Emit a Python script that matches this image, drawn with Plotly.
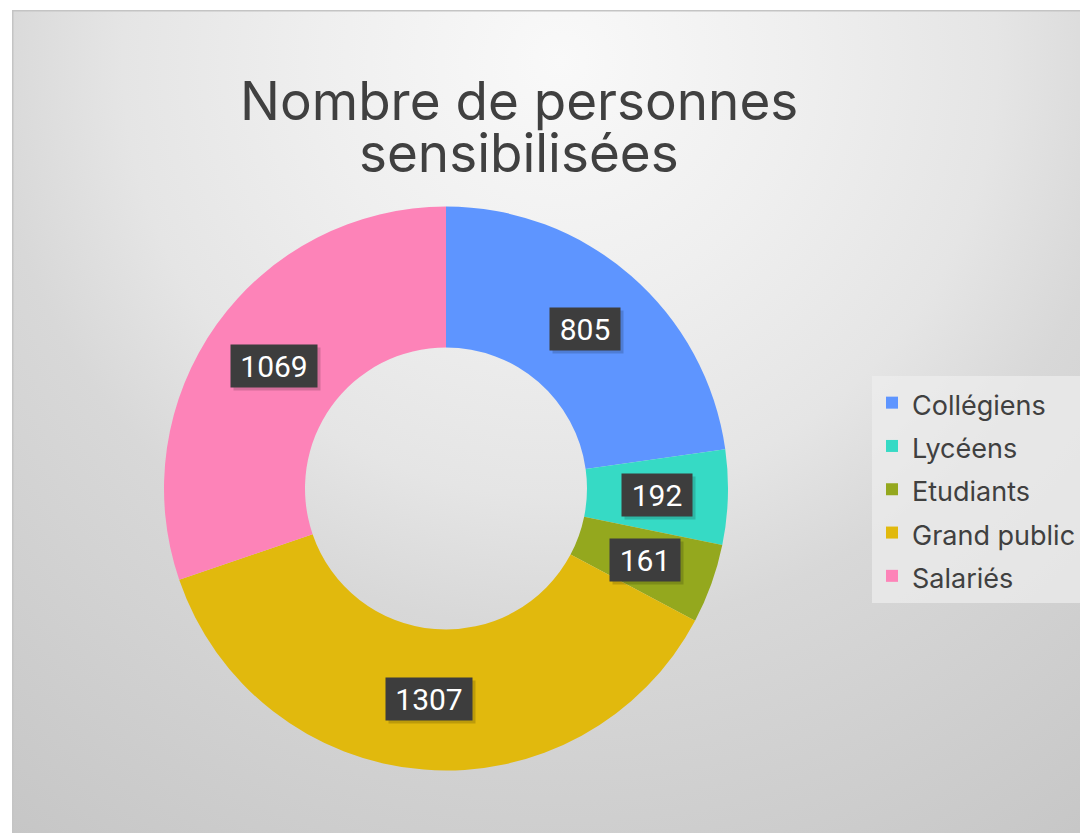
import base64, math
import plotly.graph_objects as go

categories = ["Collégiens", "Lycéens", "Etudiants", "Grand public", "Salariés"]
values = [805, 192, 161, 1307, 1069]
colors = ["#5E95FF", "#36DAC5", "#94A81E", "#E1B90D", "#FD83B8"]
title_lines = ["Nombre de personnes", "sensibilisées"]

# page body has an 8px margin: work in screen pixels and convert
OFF = 8
W, H = 1080, 825


def fx(x):
    return (x - OFF) / W


def fy(y):
    return 1 - (y - OFF) / H


CX, CY, R = 446.0, 488.5, 282.0
HOLE = 0.5

# chart area starts at screen (12, 10)
AX, AY = 12, 10
aw, ah = W + OFF - AX, H + OFF - AY
svg = f'''<svg xmlns="http://www.w3.org/2000/svg" width="{aw}" height="{ah}" viewBox="0 0 {aw} {ah}" preserveAspectRatio="none">
<defs><radialGradient id="g" gradientUnits="userSpaceOnUse" cx="{560-AX}" cy="{60-AY}" r="950">
<stop offset="0" stop-color="#f9f9f9"/>
<stop offset="0.25" stop-color="#efefef"/>
<stop offset="0.46" stop-color="#e5e5e5"/>
<stop offset="0.6" stop-color="#d8d8d8"/>
<stop offset="1" stop-color="#c6c6c6"/>
</radialGradient></defs>
<rect x="0" y="0" width="{aw}" height="{ah}" fill="url(#g)"/>
<line x1="0" y1="0.75" x2="{aw}" y2="0.75" stroke="#c4c4c4" stroke-width="1.5"/>
<line x1="0.75" y1="0" x2="0.75" y2="{ah}" stroke="#c4c4c4" stroke-width="1.5"/>
</svg>'''
src = "data:image/svg+xml;base64," + base64.b64encode(svg.encode()).decode()

fig = go.Figure()
fig.add_trace(go.Pie(
    labels=[f'<span style="font-size:27px">{c}</span>' for c in categories],
    values=values,
    marker=dict(colors=colors, line=dict(width=0)),
    hole=HOLE, sort=False, direction="clockwise", rotation=0,
    textinfo="none", hoverinfo="label+value",
    domain=dict(x=[fx(CX - R), fx(CX + R)], y=[fy(CY + R), fy(CY - R)]),
))

annotations = []
for line, yc in zip(title_lines, [101, 153]):
    annotations.append(dict(text=line, x=fx(519), y=fy(yc), xref="paper", yref="paper",
                            xanchor="center", yanchor="middle", showarrow=False,
                            font=dict(family="Inter", size=53, color="#404040")))

# data labels at mid-ring, mid-angle
total = sum(values)
cum = 0
rmid = R * (1 + HOLE) / 2
for v in values:
    th = 2 * math.pi * (cum + v / 2) / total
    cum += v
    px = CX + rmid * math.sin(th)
    py = CY - rmid * math.cos(th)
    txt = str(v)
    w = len(txt) * 16 + 20
    # soft shadow box (no text)
    annotations.append(dict(
        text=" ", x=fx(px), y=fy(py), xref="paper", yref="paper", showarrow=False,
        xanchor="center", yanchor="middle",
        font=dict(family="Roboto", size=30, color="rgba(0,0,0,0)"),
        bgcolor="rgba(0,0,0,0.16)", width=w, height=40, xshift=3, yshift=-3,
    ))
    annotations.append(dict(
        text=txt, x=fx(px), y=fy(py), xref="paper", yref="paper", showarrow=False,
        xanchor="center", yanchor="middle",
        font=dict(family="Roboto", size=30, color="white"),
        bgcolor="#3d3d3d", width=w, height=40,
    ))

fig.update_layout(
    width=W, height=H,
    margin=dict(l=0, r=0, t=0, b=0),
    paper_bgcolor="white",
    images=[dict(source=src, xref="paper", yref="paper", x=fx(AX), y=fy(AY),
                 sizex=aw / W, sizey=ah / H, sizing="stretch",
                 xanchor="left", yanchor="top", layer="below")],
    annotations=annotations,
    showlegend=True,
    legend=dict(x=fx(872), y=fy(376), xanchor="left", yanchor="top",
                bgcolor="rgba(238,238,238,0.7)",
                font=dict(family="Inter", size=31, color="#404040"),
                itemclick=False, itemdoubleclick=False),
)

fig.write_html("out.html")
